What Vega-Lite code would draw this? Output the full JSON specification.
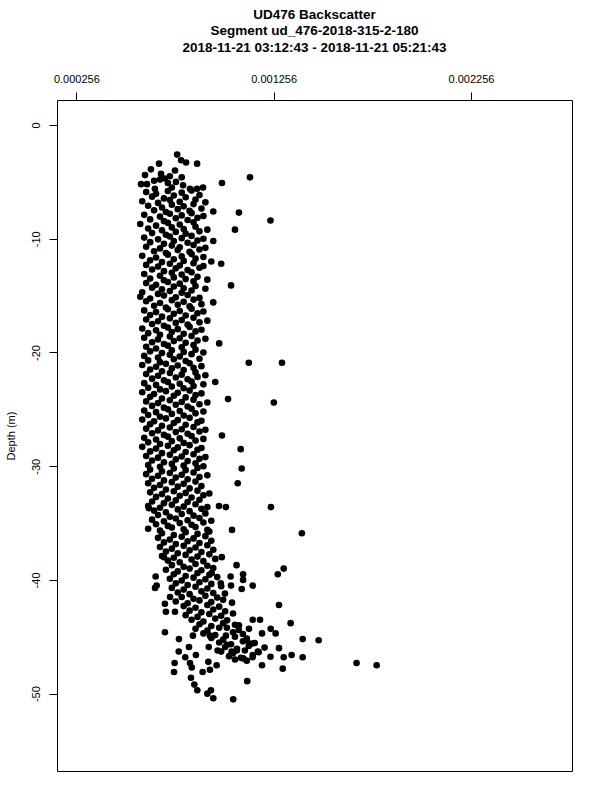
{
"$schema": "https://vega.github.io/schema/vega-lite/v6.json",
"width": 515,
"height": 671,
"autosize": {"type": "none"},
"padding": {"left": 57, "top": 100, "right": 28, "bottom": 29},
"background": "white",
"title": {"text": ["UD476 Backscatter", "Segment ud_476-2018-315-2-180", "2018-11-21 03:12:43 - 2018-11-21 05:21:43"], "anchor": "middle", "font": "Liberation Sans", "fontSize": 13.5, "fontWeight": "bold", "lineHeight": 16.5, "color": "black", "offset": 19},
"config": {"view": {"stroke": "black", "strokeWidth": 1}, "axis": {"domain": false, "grid": false, "tickColor": "black", "tickSize": 8, "labelFont": "Liberation Sans", "labelFontSize": 11, "labelColor": "black", "titleFont": "Liberation Sans", "titleFontSize": 11, "titleFontWeight": "normal", "titleColor": "black"}},
"data": {"values": [
{"b":0.000767,"d":-2.6},{"b":0.000787,"d":-3.1},{"b":0.000812,"d":-3.3},{"b":0.000675,"d":-3.4},{"b":0.000868,"d":-3.4},{"b":0.000634,"d":-3.9},{"b":0.000756,"d":-4.0},{"b":0.000604,"d":-4.4},{"b":0.000685,"d":-4.3},{"b":0.000705,"d":-4.7},{"b":0.00073,"d":-4.5},{"b":0.001136,"d":-4.6},{"b":0.000584,"d":-5.2},{"b":0.000614,"d":-5.2},{"b":0.00068,"d":-4.8},{"b":0.00072,"d":-5.1},{"b":0.000761,"d":-5.0},{"b":0.000797,"d":-5.3},{"b":0.000832,"d":-5.6},{"b":0.000868,"d":-5.6},{"b":0.000898,"d":-5.5},{"b":0.000994,"d":-5.1},{"b":0.000654,"d":-5.6},{"b":0.00074,"d":-5.5},{"b":0.00079,"d":-4.6},{"b":0.00065,"d":-4.9},
{"b":0.00061,"d":-5.9},{"b":0.00066,"d":-6.05},{"b":0.00072,"d":-5.8},{"b":0.00079,"d":-5.95},{"b":0.00084,"d":-5.75},
{"b":0.00064,"d":-6.3},{"b":0.0007,"d":-6.45},{"b":0.00075,"d":-6.2},{"b":0.00081,"d":-6.35},{"b":0.00088,"d":-6.15},
{"b":0.00059,"d":-6.7},{"b":0.00067,"d":-6.85},{"b":0.00073,"d":-6.6},{"b":0.00078,"d":-6.75},{"b":0.00086,"d":-6.55},{"b":0.00091,"d":-6.8},
{"b":0.00062,"d":-7.1},{"b":0.00069,"d":-7.25},{"b":0.00074,"d":-7.0},{"b":0.0008,"d":-7.15},{"b":0.00085,"d":-6.95},
{"b":0.00065,"d":-7.5},{"b":0.00071,"d":-7.65},{"b":0.00077,"d":-7.4},{"b":0.00083,"d":-7.55},{"b":0.00089,"d":-7.35},
{"b":0.00095,"d":-7.6},{"b":0.00108,"d":-7.7},
{"b":0.0006,"d":-7.9},{"b":0.00068,"d":-8.05},{"b":0.00073,"d":-7.8},{"b":0.00079,"d":-7.95},{"b":0.00084,"d":-7.75},{"b":0.0009,"d":-8.0},
{"b":0.00063,"d":-8.3},{"b":0.0007,"d":-8.45},{"b":0.00076,"d":-8.2},{"b":0.00082,"d":-8.35},{"b":0.00087,"d":-8.15},
{"b":0.00124,"d":-8.4},
{"b":0.00058,"d":-8.7},{"b":0.00066,"d":-8.85},{"b":0.00072,"d":-8.6},{"b":0.00078,"d":-8.75},{"b":0.00085,"d":-8.55},
{"b":0.00062,"d":-9.1},{"b":0.00069,"d":-9.25},{"b":0.00074,"d":-9.0},{"b":0.0008,"d":-9.15},{"b":0.00086,"d":-8.95},{"b":0.00092,"d":-9.2},
{"b":0.00106,"d":-9.2},
{"b":0.00064,"d":-9.5},{"b":0.00071,"d":-9.65},{"b":0.00076,"d":-9.4},{"b":0.00081,"d":-9.55},{"b":0.00088,"d":-9.35},
{"b":0.0006,"d":-9.9},{"b":0.00067,"d":-10.05},{"b":0.00073,"d":-9.8},{"b":0.00079,"d":-9.95},{"b":0.00084,"d":-9.75},{"b":0.0009,"d":-10.0},
{"b":0.00095,"d":-10.2},
{"b":0.00063,"d":-10.3},{"b":0.0007,"d":-10.45},{"b":0.00075,"d":-10.2},{"b":0.00082,"d":-10.35},{"b":0.00087,"d":-10.15},
{"b":0.00061,"d":-10.7},{"b":0.00068,"d":-10.85},{"b":0.00074,"d":-10.6},{"b":0.00078,"d":-10.75},{"b":0.00085,"d":-10.55},{"b":0.00091,"d":-10.8},
{"b":0.00065,"d":-11.1},{"b":0.00071,"d":-11.25},{"b":0.00077,"d":-11.0},{"b":0.00083,"d":-11.15},{"b":0.00088,"d":-10.95},
{"b":0.00059,"d":-11.5},{"b":0.00066,"d":-11.65},{"b":0.00072,"d":-11.4},{"b":0.00079,"d":-11.55},{"b":0.00084,"d":-11.35},{"b":0.0009,"d":-11.6},
{"b":0.00063,"d":-11.9},{"b":0.00069,"d":-12.05},{"b":0.00075,"d":-11.8},{"b":0.0008,"d":-11.95},{"b":0.00086,"d":-11.75},
{"b":0.00094,"d":-12.0},{"b":0.00099,"d":-12.2},
{"b":0.00061,"d":-12.3},{"b":0.00067,"d":-12.45},{"b":0.00073,"d":-12.2},{"b":0.00078,"d":-12.35},{"b":0.00085,"d":-12.15},{"b":0.0009,"d":-12.4},
{"b":0.00064,"d":-12.7},{"b":0.0007,"d":-12.85},{"b":0.00076,"d":-12.6},{"b":0.00082,"d":-12.75},{"b":0.00088,"d":-12.55},
{"b":0.0006,"d":-13.1},{"b":0.00068,"d":-13.25},{"b":0.00074,"d":-13.0},{"b":0.00079,"d":-13.15},{"b":0.00084,"d":-12.95},
{"b":0.00063,"d":-13.5},{"b":0.0007,"d":-13.65},{"b":0.00075,"d":-13.4},{"b":0.00081,"d":-13.55},{"b":0.00087,"d":-13.35},{"b":0.00092,"d":-13.6},
{"b":0.00061,"d":-13.9},{"b":0.00066,"d":-14.05},{"b":0.00072,"d":-13.8},{"b":0.00078,"d":-13.95},{"b":0.00085,"d":-13.75},
{"b":0.00104,"d":-14.1},
{"b":0.00064,"d":-14.3},{"b":0.00069,"d":-14.45},{"b":0.00075,"d":-14.2},{"b":0.0008,"d":-14.35},{"b":0.00086,"d":-14.15},{"b":0.00091,"d":-14.4},
{"b":0.00059,"d":-14.7},{"b":0.00067,"d":-14.85},{"b":0.00073,"d":-14.6},{"b":0.00079,"d":-14.75},{"b":0.00084,"d":-14.55},
{"b":0.00058,"d":-15.1},{"b":0.00063,"d":-15.25},{"b":0.0007,"d":-15.0},{"b":0.00076,"d":-15.15},{"b":0.00082,"d":-14.95},{"b":0.00088,"d":-15.2},
{"b":0.00061,"d":-15.5},{"b":0.00068,"d":-15.65},{"b":0.00074,"d":-15.4},{"b":0.0008,"d":-15.55},{"b":0.00085,"d":-15.35},{"b":0.00095,"d":-15.6},
{"b":0.00065,"d":-15.9},{"b":0.00071,"d":-16.05},{"b":0.00077,"d":-15.8},{"b":0.00083,"d":-15.95},{"b":0.00089,"d":-15.75},
{"b":0.0006,"d":-16.3},{"b":0.00066,"d":-16.45},{"b":0.00072,"d":-16.2},{"b":0.00078,"d":-16.35},{"b":0.00084,"d":-16.15},{"b":0.0009,"d":-16.4},
{"b":0.00063,"d":-16.7},{"b":0.00069,"d":-16.85},{"b":0.00075,"d":-16.6},{"b":0.00081,"d":-16.75},{"b":0.00087,"d":-16.55},
{"b":0.00061,"d":-17.1},{"b":0.00067,"d":-17.25},{"b":0.00073,"d":-17.0},{"b":0.00079,"d":-17.15},{"b":0.00085,"d":-16.95},{"b":0.00092,"d":-17.2},
{"b":0.00064,"d":-17.5},{"b":0.0007,"d":-17.65},{"b":0.00076,"d":-17.4},{"b":0.00082,"d":-17.55},{"b":0.00088,"d":-17.35},
{"b":0.00059,"d":-17.9},{"b":0.00066,"d":-18.05},{"b":0.00072,"d":-17.8},{"b":0.00077,"d":-17.95},{"b":0.00083,"d":-17.75},{"b":0.00089,"d":-18.0},
{"b":0.00062,"d":-18.3},{"b":0.00068,"d":-18.45},{"b":0.00074,"d":-18.2},{"b":0.0008,"d":-18.35},{"b":0.00086,"d":-18.15},
{"b":0.0006,"d":-18.7},{"b":0.00067,"d":-18.85},{"b":0.00073,"d":-18.6},{"b":0.00078,"d":-18.75},{"b":0.00084,"d":-18.55},{"b":0.00091,"d":-18.8},
{"b":0.00064,"d":-19.1},{"b":0.0007,"d":-19.25},{"b":0.00075,"d":-19.0},{"b":0.00081,"d":-19.15},{"b":0.00087,"d":-18.95},{"b":0.00098,"d":-19.2},
{"b":0.00061,"d":-19.5},{"b":0.00066,"d":-19.65},{"b":0.00072,"d":-19.4},{"b":0.00079,"d":-19.55},{"b":0.00085,"d":-19.35},
{"b":0.00063,"d":-19.9},{"b":0.00069,"d":-20.05},{"b":0.00074,"d":-19.8},{"b":0.0008,"d":-19.95},{"b":0.00086,"d":-19.75},{"b":0.0009,"d":-20.0},
{"b":0.0006,"d":-20.3},{"b":0.00067,"d":-20.45},{"b":0.00073,"d":-20.2},{"b":0.00078,"d":-20.35},{"b":0.00084,"d":-20.15},
{"b":0.00062,"d":-20.7},{"b":0.00068,"d":-20.85},{"b":0.00075,"d":-20.6},{"b":0.00081,"d":-20.75},{"b":0.00088,"d":-20.55},
{"b":0.00113,"d":-20.9},{"b":0.001298,"d":-20.9},
{"b":0.00059,"d":-21.1},{"b":0.00066,"d":-21.25},{"b":0.00071,"d":-21.0},{"b":0.00077,"d":-21.15},{"b":0.00083,"d":-20.95},{"b":0.00089,"d":-21.2},
{"b":0.00063,"d":-21.5},{"b":0.00069,"d":-21.65},{"b":0.00074,"d":-21.4},{"b":0.0008,"d":-21.55},{"b":0.00085,"d":-21.35},
{"b":0.00061,"d":-21.9},{"b":0.00067,"d":-22.05},{"b":0.00073,"d":-21.8},{"b":0.00079,"d":-21.95},{"b":0.00086,"d":-21.75},{"b":0.00091,"d":-22.0},
{"b":0.00064,"d":-22.3},{"b":0.0007,"d":-22.45},{"b":0.00076,"d":-22.2},{"b":0.00082,"d":-22.35},{"b":0.00087,"d":-22.15},
{"b":0.00096,"d":-22.6},
{"b":0.0006,"d":-22.7},{"b":0.00066,"d":-22.85},{"b":0.00072,"d":-22.6},{"b":0.00078,"d":-22.75},{"b":0.00084,"d":-22.55},{"b":0.0009,"d":-22.8},
{"b":0.00062,"d":-23.1},{"b":0.00068,"d":-23.25},{"b":0.00074,"d":-23.0},{"b":0.0008,"d":-23.15},{"b":0.00085,"d":-22.95},
{"b":0.00059,"d":-23.5},{"b":0.00065,"d":-23.65},{"b":0.00071,"d":-23.4},{"b":0.00077,"d":-23.55},{"b":0.00083,"d":-23.35},{"b":0.00089,"d":-23.6},
{"b":0.00063,"d":-23.9},{"b":0.00069,"d":-24.05},{"b":0.00075,"d":-23.8},{"b":0.00081,"d":-23.95},{"b":0.00086,"d":-23.75},
{"b":0.001025,"d":-24.1},{"b":0.001257,"d":-24.4},
{"b":0.00061,"d":-24.3},{"b":0.00067,"d":-24.45},{"b":0.00073,"d":-24.2},{"b":0.00079,"d":-24.35},{"b":0.00085,"d":-24.15},{"b":0.00092,"d":-24.4},
{"b":0.00064,"d":-24.7},{"b":0.0007,"d":-24.85},{"b":0.00076,"d":-24.6},{"b":0.00082,"d":-24.75},{"b":0.00088,"d":-24.55},
{"b":0.0006,"d":-25.1},{"b":0.00066,"d":-25.25},{"b":0.00072,"d":-25.0},{"b":0.00078,"d":-25.15},{"b":0.00084,"d":-24.95},{"b":0.0009,"d":-25.2},
{"b":0.00062,"d":-25.5},{"b":0.00068,"d":-25.65},{"b":0.00074,"d":-25.4},{"b":0.0008,"d":-25.55},{"b":0.00086,"d":-25.35},
{"b":0.00059,"d":-25.9},{"b":0.00065,"d":-26.05},{"b":0.00071,"d":-25.8},{"b":0.00077,"d":-25.95},{"b":0.00083,"d":-25.75},{"b":0.00089,"d":-26.0},
{"b":0.00063,"d":-26.3},{"b":0.00069,"d":-26.45},{"b":0.00075,"d":-26.2},{"b":0.00081,"d":-26.35},{"b":0.00087,"d":-26.15},
{"b":0.00061,"d":-26.7},{"b":0.00067,"d":-26.85},{"b":0.00073,"d":-26.6},{"b":0.00079,"d":-26.75},{"b":0.00085,"d":-26.55},{"b":0.00091,"d":-26.8},
{"b":0.00064,"d":-27.1},{"b":0.0007,"d":-27.25},{"b":0.00076,"d":-27.0},{"b":0.00082,"d":-27.15},{"b":0.00088,"d":-26.95},
{"b":0.000994,"d":-27.3},
{"b":0.0006,"d":-27.5},{"b":0.00066,"d":-27.65},{"b":0.00072,"d":-27.4},{"b":0.00078,"d":-27.55},{"b":0.00084,"d":-27.35},{"b":0.0009,"d":-27.6},
{"b":0.00062,"d":-27.9},{"b":0.00068,"d":-28.05},{"b":0.00074,"d":-27.8},{"b":0.0008,"d":-27.95},{"b":0.00086,"d":-27.75},
{"b":0.00059,"d":-28.3},{"b":0.00066,"d":-28.45},{"b":0.00072,"d":-28.2},{"b":0.00077,"d":-28.35},{"b":0.00083,"d":-28.15},{"b":0.00089,"d":-28.4},
{"b":0.001089,"d":-28.5},
{"b":0.00063,"d":-28.7},{"b":0.00069,"d":-28.85},{"b":0.00075,"d":-28.6},{"b":0.00081,"d":-28.75},{"b":0.00087,"d":-28.55},
{"b":0.00061,"d":-29.1},{"b":0.00067,"d":-29.25},{"b":0.00073,"d":-29.0},{"b":0.00079,"d":-29.15},{"b":0.00085,"d":-28.95},{"b":0.00091,"d":-29.2},
{"b":0.00064,"d":-29.5},{"b":0.0007,"d":-29.65},{"b":0.00076,"d":-29.4},{"b":0.00082,"d":-29.55},{"b":0.00088,"d":-29.35},
{"b":0.00062,"d":-29.9},{"b":0.00068,"d":-30.05},{"b":0.00074,"d":-29.8},{"b":0.0008,"d":-29.95},{"b":0.00086,"d":-29.75},{"b":0.0009,"d":-30.0},
{"b":0.001094,"d":-30.2},
{"b":0.00063,"d":-30.3},{"b":0.00069,"d":-30.45},{"b":0.00075,"d":-30.2},{"b":0.00081,"d":-30.35},{"b":0.00087,"d":-30.15},
{"b":0.00061,"d":-30.7},{"b":0.00067,"d":-30.85},{"b":0.00073,"d":-30.6},{"b":0.00079,"d":-30.75},{"b":0.00085,"d":-30.55},{"b":0.00092,"d":-30.8},
{"b":0.00064,"d":-31.1},{"b":0.0007,"d":-31.25},{"b":0.00076,"d":-31.0},{"b":0.00082,"d":-31.15},{"b":0.00088,"d":-30.95},
{"b":0.00062,"d":-31.5},{"b":0.00068,"d":-31.65},{"b":0.00074,"d":-31.4},{"b":0.0008,"d":-31.55},{"b":0.00086,"d":-31.35},{"b":0.001074,"d":-31.5},
{"b":0.00065,"d":-31.9},{"b":0.00071,"d":-32.05},{"b":0.00077,"d":-31.8},{"b":0.00083,"d":-31.95},{"b":0.00089,"d":-31.75},
{"b":0.00063,"d":-32.3},{"b":0.00069,"d":-32.45},{"b":0.00075,"d":-32.2},{"b":0.00081,"d":-32.35},{"b":0.00087,"d":-32.15},{"b":0.00093,"d":-32.4},
{"b":0.00066,"d":-32.7},{"b":0.00072,"d":-32.85},{"b":0.00078,"d":-32.6},{"b":0.00084,"d":-32.75},{"b":0.0009,"d":-32.55},
{"b":0.00064,"d":-33.1},{"b":0.0007,"d":-33.25},{"b":0.00076,"d":-33.0},{"b":0.00082,"d":-33.15},{"b":0.00088,"d":-32.95},
{"b":0.00062,"d":-33.5},{"b":0.00068,"d":-33.65},{"b":0.00074,"d":-33.4},{"b":0.0008,"d":-33.55},{"b":0.00086,"d":-33.35},{"b":0.00092,"d":-33.6},
{"b":0.001242,"d":-33.6},{"b":0.001014,"d":-33.6},{"b":0.000979,"d":-33.5},{"b":0.000624,"d":-33.7},
{"b":0.00065,"d":-33.9},{"b":0.00071,"d":-34.05},{"b":0.00077,"d":-33.8},{"b":0.00083,"d":-33.95},{"b":0.00089,"d":-33.75},
{"b":0.00067,"d":-34.3},{"b":0.00073,"d":-34.45},{"b":0.00079,"d":-34.2},{"b":0.00085,"d":-34.35},{"b":0.00091,"d":-34.15},
{"b":0.00064,"d":-34.7},{"b":0.0007,"d":-34.85},{"b":0.00076,"d":-34.6},{"b":0.00082,"d":-34.75},{"b":0.00088,"d":-34.55},{"b":0.00094,"d":-34.8},
{"b":0.00066,"d":-35.1},{"b":0.00072,"d":-35.25},{"b":0.00078,"d":-35.0},{"b":0.00084,"d":-35.15},{"b":0.0009,"d":-34.95},
{"b":0.00062,"d":-35.5},{"b":0.00068,"d":-35.65},{"b":0.00074,"d":-35.4},{"b":0.0008,"d":-35.55},{"b":0.00086,"d":-35.35},{"b":0.00092,"d":-35.6},
{"b":0.001045,"d":-35.6},{"b":0.001399,"d":-35.9},
{"b":0.00069,"d":-35.9},{"b":0.00075,"d":-36.05},{"b":0.00081,"d":-35.8},{"b":0.00087,"d":-35.95},{"b":0.00093,"d":-35.75},
{"b":0.00067,"d":-36.3},{"b":0.00073,"d":-36.45},{"b":0.00079,"d":-36.2},{"b":0.00085,"d":-36.35},{"b":0.00091,"d":-36.15},
{"b":0.0007,"d":-36.7},{"b":0.00076,"d":-36.85},{"b":0.00082,"d":-36.6},{"b":0.00088,"d":-36.75},{"b":0.00094,"d":-36.55},
{"b":0.00068,"d":-37.1},{"b":0.00074,"d":-37.25},{"b":0.0008,"d":-37.0},{"b":0.00086,"d":-37.15},{"b":0.00092,"d":-36.95},
{"b":0.00071,"d":-37.5},{"b":0.00077,"d":-37.65},{"b":0.00083,"d":-37.4},{"b":0.00089,"d":-37.55},{"b":0.00095,"d":-37.35},
{"b":0.00069,"d":-37.9},{"b":0.00075,"d":-38.05},{"b":0.00081,"d":-37.8},{"b":0.00087,"d":-37.95},{"b":0.00093,"d":-37.75},
{"b":0.000993,"d":-38.0},{"b":0.0007,"d":-38.0},{"b":0.001068,"d":-38.7},
{"b":0.00072,"d":-38.3},{"b":0.00078,"d":-38.45},{"b":0.00084,"d":-38.2},{"b":0.0009,"d":-38.35},{"b":0.00096,"d":-38.15},
{"b":0.00074,"d":-38.7},{"b":0.0008,"d":-38.85},{"b":0.00086,"d":-38.6},{"b":0.00092,"d":-38.75},
{"b":0.00071,"d":-39.1},{"b":0.00077,"d":-39.25},{"b":0.00083,"d":-39.0},{"b":0.00089,"d":-39.15},{"b":0.00095,"d":-38.95},
{"b":0.00075,"d":-39.5},{"b":0.00081,"d":-39.65},{"b":0.00087,"d":-39.4},{"b":0.00093,"d":-39.55},
{"b":0.00073,"d":-39.9},{"b":0.00079,"d":-40.05},{"b":0.00085,"d":-39.8},{"b":0.00091,"d":-39.95},{"b":0.00097,"d":-39.75},
{"b":0.00076,"d":-40.3},{"b":0.00082,"d":-40.45},{"b":0.00088,"d":-40.2},{"b":0.00094,"d":-40.35},
{"b":0.00074,"d":-40.7},{"b":0.0008,"d":-40.85},{"b":0.00086,"d":-40.6},{"b":0.00092,"d":-40.75},{"b":0.00099,"d":-40.55},
{"b":0.00077,"d":-41.1},{"b":0.00083,"d":-41.25},{"b":0.00089,"d":-41.0},{"b":0.00095,"d":-41.15},
{"b":0.00079,"d":-41.5},{"b":0.00085,"d":-41.65},{"b":0.00091,"d":-41.4},{"b":0.00097,"d":-41.55},
{"b":0.00076,"d":-41.9},{"b":0.00082,"d":-42.05},{"b":0.00088,"d":-41.8},{"b":0.00094,"d":-41.95},{"b":0.001,"d":-41.75},
{"b":0.0008,"d":-42.3},{"b":0.00086,"d":-42.45},{"b":0.00092,"d":-42.2},{"b":0.00098,"d":-42.35},
{"b":0.00083,"d":-42.7},{"b":0.00089,"d":-42.85},{"b":0.00095,"d":-42.6},{"b":0.00101,"d":-42.75},
{"b":0.00081,"d":-43.1},{"b":0.00087,"d":-43.25},{"b":0.00093,"d":-43.0},{"b":0.00099,"d":-43.15},{"b":0.00105,"d":-42.95},
{"b":0.00084,"d":-43.5},{"b":0.0009,"d":-43.65},{"b":0.00096,"d":-43.4},{"b":0.00102,"d":-43.55},
{"b":0.00088,"d":-43.9},{"b":0.00094,"d":-44.05},{"b":0.001,"d":-43.8},{"b":0.00106,"d":-43.95},
{"b":0.00086,"d":-44.3},{"b":0.00092,"d":-44.45},{"b":0.00098,"d":-44.2},
{"b":0.0009,"d":-44.7},{"b":0.00096,"d":-44.85},{"b":0.00105,"d":-44.6},{"b":0.0011,"d":-44.75},
{"b":0.00094,"d":-45.1},{"b":0.001,"d":-45.25},{"b":0.00106,"d":-45.0},{"b":0.00112,"d":-45.15},
{"b":0.00098,"d":-45.5},{"b":0.00104,"d":-45.65},{"b":0.0011,"d":-45.4},{"b":0.00116,"d":-45.55},
{"b":0.00101,"d":-45.9},{"b":0.00107,"d":-46.05},{"b":0.00113,"d":-45.8},{"b":0.00121,"d":-45.95},
{"b":0.00099,"d":-46.3},{"b":0.00105,"d":-46.45},{"b":0.00111,"d":-46.2},{"b":0.00118,"d":-46.35},
{"b":0.00103,"d":-46.7},{"b":0.00109,"d":-46.85},{"b":0.00115,"d":-46.6},{"b":0.00124,"d":-46.75},
{"b":0.00106,"d":-47.0},{"b":0.00112,"d":-47.1},
{"b":0.000658,"d":-39.7},{"b":0.000663,"d":-40.5},{"b":0.000655,"d":-40.7},{"b":0.001277,"d":-39.5},{"b":0.001307,"d":-39.0},{"b":0.00115,"d":-40.5},{"b":0.001094,"d":-40.8},{"b":0.00104,"d":-40.5},{"b":0.001038,"d":-39.7},{"b":0.001101,"d":-39.5},{"b":0.001101,"d":-40.0},{"b":0.000731,"d":-41.5},{"b":0.000705,"d":-42.1},{"b":0.00071,"d":-42.8},{"b":0.000756,"d":-42.8},{"b":0.001283,"d":-42.2},{"b":0.001045,"d":-42.0},{"b":0.001009,"d":-41.2},{"b":0.000988,"d":-40.3},{"b":0.000942,"d":-39.4},
{"b":0.001342,"d":-43.8},{"b":0.00115,"d":-43.5},{"b":0.001187,"d":-43.5},{"b":0.001241,"d":-44.3},{"b":0.001266,"d":-44.7},{"b":0.001197,"d":-44.7},{"b":0.001131,"d":-44.3},{"b":0.00108,"d":-44.0},{"b":0.001079,"d":-44.4},{"b":0.001019,"d":-44.2},{"b":0.001014,"d":-44.9},{"b":0.000705,"d":-44.6},{"b":0.000776,"d":-45.2},{"b":0.000847,"d":-44.9},{"b":0.000933,"d":-44.9},{"b":0.001403,"d":-45.2},{"b":0.001484,"d":-45.3},
{"b":0.000775,"d":-46.3},{"b":0.000827,"d":-45.9},{"b":0.000927,"d":-45.9},{"b":0.000972,"d":-46.2},{"b":0.001019,"d":-45.7},{"b":0.001043,"d":-46.3},{"b":0.001069,"d":-46.2},{"b":0.001119,"d":-45.3},{"b":0.001146,"d":-45.6},{"b":0.001176,"d":-46.3},{"b":0.00115,"d":-46.8},{"b":0.001102,"d":-46.9},{"b":0.001283,"d":-46.0},{"b":0.001307,"d":-46.8},{"b":0.001347,"d":-46.6},{"b":0.001403,"d":-46.8},{"b":0.001676,"d":-47.3},{"b":0.001778,"d":-47.5},
{"b":0.000754,"d":-47.3},{"b":0.000751,"d":-48.1},{"b":0.000808,"d":-46.8},{"b":0.000832,"d":-47.3},{"b":0.000841,"d":-47.7},{"b":0.000862,"d":-46.6},{"b":0.000925,"d":-47.2},{"b":0.000933,"d":-47.9},{"b":0.000967,"d":-47.5},{"b":0.000896,"d":-48.1},{"b":0.001197,"d":-47.5},{"b":0.001302,"d":-47.8},{"b":0.000837,"d":-48.6},{"b":0.000854,"d":-49.2},{"b":0.000869,"d":-49.7},{"b":0.001122,"d":-48.9},{"b":0.00092,"d":-50.0},{"b":0.000938,"d":-49.7},{"b":0.00095,"d":-50.4},{"b":0.001051,"d":-50.5}
]},
"mark": {"type": "circle", "size": 44, "color": "black", "opacity": 1},
"encoding": {
"x": {"field": "b", "type": "quantitative", "scale": {"domain": [0.000158, 0.002768], "nice": false, "zero": false}, "axis": {"orient": "top", "values": [0.000256, 0.001256, 0.002256], "format": ".6f", "title": null, "labelPadding": 8, "labelFlush": false}},
"y": {"field": "d", "type": "quantitative", "scale": {"domain": [-56.8, 2.2], "nice": false, "zero": false}, "axis": {"values": [0, -10, -20, -30, -40, -50], "labelExpr": "replace(datum.label, '−', '-')", "labelAngle": -90, "labelAlign": "center", "labelBaseline": "bottom", "labelPadding": 8, "title": "Depth (m)", "titlePadding": 14}}
}
}
